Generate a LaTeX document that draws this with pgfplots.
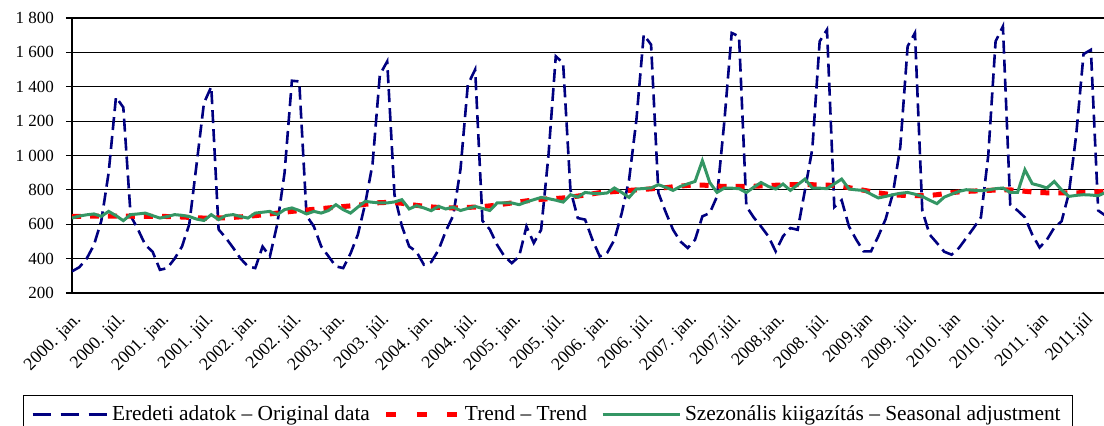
\documentclass[border=0pt]{standalone}
\usepackage{fontspec}
\setmainfont{Liberation Serif}
\usepackage{pgfplots}
\usepackage{pgfplotstable}
\pgfplotsset{compat=1.18}
\definecolor{navyblue}{RGB}{0,0,128}
\definecolor{sagreen}{RGB}{52,150,100}
\definecolor{trendred}{RGB}{255,0,0}

\pgfplotstableread{
m orig trend sa
0 326 645 636
1 350 646 648
2 400 647 655
3 480 648 660
4 620 648 646
5 900 648 675
6 1340 648 650
7 1280 647 621
8 650 647 656
9 570 646 660
10 480 646 665
11 440 646 650
12 335 646 636
13 345 645 645
14 400 644 656
15 470 642 652
16 600 640 645
17 950 638 630
18 1305 636 622
19 1400 636 656
20 570 637 627
21 520 638 651
22 462 640 656
23 400 643 645
24 355 646 636
25 345 650 665
26 470 655 670
27 413 660 675
28 600 665 656
29 900 670 685
30 1435 675 695
31 1431 679 680
32 650 683 660
33 587 687 675
34 471 691 665
35 413 695 680
36 355 699 714
37 345 703 685
38 430 707 665
39 540 711 700
40 720 716 733
41 950 721 728
42 1470 726 724
43 1547 727 724
44 770 726 730
45 590 722 743
46 471 716 689
47 440 710 708
48 365 705 695
49 380 701 679
50 450 698 704
51 560 696 689
52 650 695 700
53 920 696 680
54 1412 698 692
55 1500 700 704
56 620 703 692
57 570 707 680
58 480 712 724
59 413 718 724
60 374 724 724
61 413 730 714
62 587 736 730
63 491 741 743
64 568 745 756
65 1000 748 749
66 1577 750 740
67 1538 753 729
68 800 758 772
69 636 764 758
70 627 770 785
71 510 777 780
72 413 784 778
73 433 787 782
74 510 790 811
75 665 793 785
76 859 797 756
77 1208 800 805
78 1703 803 808
79 1645 806 811
80 782 810 830
81 670 813 815
82 568 818 797
83 500 822 820
84 462 826 835
85 510 829 849
86 646 828 970
87 665 825 843
88 762 822 785
89 1200 820 811
90 1713 820 810
91 1693 820 807
92 704 820 785
93 640 821 815
94 587 823 843
95 530 825 820
96 442 827 805
97 530 829 834
98 578 830 797
99 568 830 830
100 800 830 863
101 1040 830 811
102 1664 829 810
103 1732 828 807
104 700 825 835
105 740 820 863
106 587 813 805
107 510 805 800
108 442 798 797
109 442 790 775
110 530 783 753
111 630 777 762
112 780 772 772
113 1050 769 780
114 1635 767 785
115 1713 766 775
116 680 766 762
117 540 768 740
118 491 772 720
119 440 778 758
120 423 784 775
121 462 788 791
122 520 791 801
123 578 793 798
124 640 795 795
125 1000 797 800
126 1664 799 807
127 1751 801 811
128 714 800 785
129 680 797 785
130 640 792 917
131 540 788 836
132 465 785 825
133 510 783 811
134 580 782 849
135 617 782 800
136 780 782 762
137 1120 783 768
138 1590 784 772
139 1615 786 770
140 680 789 766
141 650 791 785
142 500 792 772
143 450 793 780
}\datatable

\begin{document}
\begin{tikzpicture}
\begin{axis}[
  at={(0,0)}, anchor=south west,
  scale only axis, width=524.1pt, height=137.5pt,
  xmin=0, xmax=143, ymin=200, ymax=1800,
  ytick={200,400,600,800,1000,1200,1400,1600,1800},
  yticklabels={200,400,600,800,1 000,1 200,1 400,1 600,1 800},
  xtick={0,6,...,138},
  xticklabels={2000. jan.,2000. júl.,2001. jan.,2001. júl.,2002. jan.,2002. júl.,2003. jan.,2003. júl.,2004. jan.,2004. júl.,2005. jan.,2005. júl.,2006. jan.,2006. júl.,2007. jan.,2007.júl.,2008.jan.,2008. júl.,2009.jan,2009. júl.,2010. jan,2010. júl.,2011. jan,2011.júl},
  ymajorgrids,
  major grid style={black, line width=0.5pt},
  ytick pos=left,
  tick align=outside,
  major tick length=3pt,
  xtick style={draw=none},
  ytick style={black, line width=0.6pt},
  x axis line style={gray, line width=1pt},
  y axis line style={black, line width=0.8pt},
  yticklabel style={font=\fontsize{8.5}{10}\selectfont, xshift=-2.5pt},
  xticklabel style={font=\fontsize{8.9}{10}\selectfont, xshift=3.5pt, yshift=-9pt, rotate=45, anchor=east, inner sep=0pt},
  legend style={at={(-0.0468,-0.3709)}, anchor=north west, draw=black, line width=0.5pt,
    font=\fontsize{10.7}{12}\selectfont, legend columns=3, inner xsep=4pt, inner ysep=3pt,
    /tikz/every odd column/.append style={column sep=0pt},
    /tikz/every even column/.append style={column sep=5pt}},
  legend cell align=left,
  clip=true,
]
\addplot[navyblue, line width=1.3pt, dash pattern=on 6.5pt off 3pt,
  legend image code/.code={\draw[navyblue, line width=1.3pt, dash pattern=on 9.25pt off 4.75pt] (0pt,0pt) -- (37pt,0pt);}]
  table[x=m, y=orig] {\datatable};
\addlegendentry{Eredeti adatok -- Original data}
\addplot[trendred, line width=2.5pt, dash pattern=on 4.5pt off 4.5pt,
  legend image code/.code={\draw[trendred, line width=2.5pt, dash pattern=on 5pt off 10.25pt] (0pt,0pt) -- (36pt,0pt);}]
  table[x=m, y=trend] {\datatable};
\addlegendentry{Trend -- Trend}
\addplot[sagreen, line width=1.5pt,
  legend image code/.code={\draw[sagreen, line width=1.5pt] (0pt,0pt) -- (38.5pt,0pt);}]
  table[x=m, y=sa] {\datatable};
\addlegendentry{Szezonális kiigazítás -- Seasonal adjustment}
\end{axis}
\pgfresetboundingbox
\path[use as bounding box] (-36pt,-66pt) rectangle (516pt,146.5pt);
\end{tikzpicture}
\end{document}
